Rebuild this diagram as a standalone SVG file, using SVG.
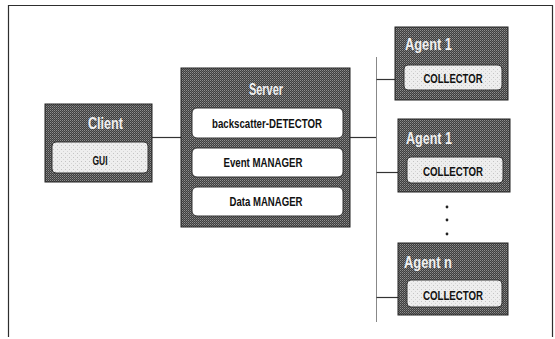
<svg xmlns="http://www.w3.org/2000/svg" width="555" height="339" viewBox="0 0 555 339">
  <defs>
    <!-- checker screen for the dark component frames -->
    <pattern id="darkScreen" width="2" height="2" patternUnits="userSpaceOnUse">
      <rect width="2" height="2" fill="#3e3e3e"/>
      <rect x="0" y="0" width="1" height="1" fill="#8e8e8e"/>
      <rect x="1" y="1" width="1" height="1" fill="#6a6a6a"/>
    </pattern>
    <!-- light screen for the inner module panels -->
    <pattern id="lightScreen" width="4" height="4" patternUnits="userSpaceOnUse">
      <rect width="4" height="4" fill="#eeeeee"/>
      <rect x="1" y="1" width="1" height="1" fill="#c4c4c4"/>
      <rect x="3" y="3" width="1" height="1" fill="#d4d4d4"/>
    </pattern>
  </defs>
  <style>
    .frame { fill: url(#darkScreen); stroke: #222222; stroke-width: 1; }
    .panel { fill: url(#lightScreen); stroke: #333333; stroke-width: 1; }
    .module { fill: #ffffff; stroke: #333333; stroke-width: 1; }
    .title { font-family: "Liberation Sans", Arial, sans-serif; font-weight: bold; font-size: 17px; fill: #f0f0f0; }
    .name { font-family: "Liberation Sans", Arial, sans-serif; font-weight: bold; font-size: 13px; fill: #111111; text-anchor: middle; }
    .wire { stroke: #333333; stroke-width: 1.2; fill: none; }
    .bus { stroke: #888888; stroke-width: 1; fill: none; }
    .edge { stroke: #2e2e2e; stroke-width: 1.2; fill: none; }
  </style>

  <!-- outer frame (open at the bottom) -->
  <path class="edge" d="M8.5,337 V5.5 H552.5 V337"/>

  <!-- connectors -->
  <g id="connectors">
    <line class="wire" x1="152" y1="137.5" x2="181" y2="137.5"/>
    <line class="wire" x1="350" y1="137.5" x2="376.5" y2="137.5"/>
    <line class="bus" x1="376.5" y1="57" x2="376.5" y2="322"/>
    <line class="wire" x1="376.5" y1="79.5" x2="395" y2="79.5"/>
    <line class="wire" x1="376.5" y1="172.5" x2="398" y2="172.5"/>
    <line class="wire" x1="376.5" y1="297.5" x2="398" y2="297.5"/>
    <!-- ellipsis between agents -->
    <circle cx="447" cy="207" r="1.4" fill="#222"/>
    <circle cx="447" cy="220" r="1.4" fill="#222"/>
    <circle cx="447" cy="234" r="1.4" fill="#222"/>
  </g>

  <g id="client">
    <rect class="frame" x="45" y="104" width="107" height="78"/>
    <text class="title" x="88" y="129" textLength="35" lengthAdjust="spacingAndGlyphs">Client</text>
    <rect class="panel" x="52" y="142" width="96" height="31" rx="4"/>
    <text class="name" x="100" y="165" textLength="15" lengthAdjust="spacingAndGlyphs">GUI</text>
  </g>

  <g id="server">
    <rect class="frame" x="181" y="68" width="169" height="159"/>
    <text class="title" x="249" y="95" textLength="34" lengthAdjust="spacingAndGlyphs">Server</text>
    <rect class="module" x="192" y="108" width="151" height="30" rx="5"/>
    <text class="name" x="267" y="128" textLength="110" lengthAdjust="spacingAndGlyphs">backscatter-DETECTOR</text>
    <rect class="module" x="192" y="148" width="151" height="29" rx="5"/>
    <text class="name" x="263" y="167" textLength="79" lengthAdjust="spacingAndGlyphs">Event MANAGER</text>
    <rect class="module" x="192" y="187" width="151" height="29" rx="5"/>
    <text class="name" x="266" y="206" textLength="73" lengthAdjust="spacingAndGlyphs">Data MANAGER</text>
  </g>

  <g id="agent-1a">
    <rect class="frame" x="395" y="27" width="113" height="73"/>
    <text class="title" x="405" y="50" textLength="47" lengthAdjust="spacingAndGlyphs">Agent 1</text>
    <rect class="panel" x="404" y="65" width="98" height="25" rx="4"/>
    <text class="name" x="453" y="82.5" textLength="59" lengthAdjust="spacingAndGlyphs">COLLECTOR</text>
  </g>

  <g id="agent-1b">
    <rect class="frame" x="398" y="119" width="112" height="73"/>
    <text class="title" x="406" y="144" textLength="46" lengthAdjust="spacingAndGlyphs">Agent 1</text>
    <rect class="panel" x="407" y="157" width="96" height="26" rx="4"/>
    <text class="name" x="453" y="175.5" textLength="60" lengthAdjust="spacingAndGlyphs">COLLECTOR</text>
  </g>

  <g id="agent-n">
    <rect class="frame" x="398" y="243" width="110" height="72"/>
    <text class="title" x="404" y="268" textLength="48" lengthAdjust="spacingAndGlyphs">Agent n</text>
    <rect class="panel" x="407" y="280" width="95" height="27" rx="4"/>
    <text class="name" x="453" y="299.5" textLength="60" lengthAdjust="spacingAndGlyphs">COLLECTOR</text>
  </g>
</svg>
